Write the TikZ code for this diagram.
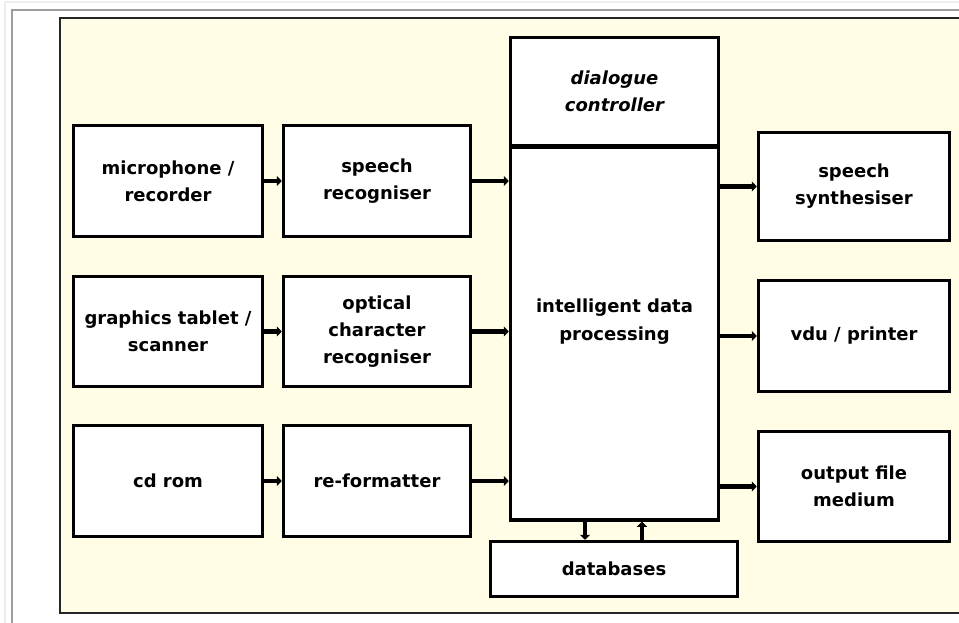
\documentclass[tikz,border=0pt]{standalone}
\usepackage{fontspec}
\setmainfont{DejaVu Sans}
\usetikzlibrary{arrows.meta}
\definecolor{beige}{RGB}{255,253,229}
\begin{document}
\begin{tikzpicture}[x=1pt,y=-1pt,
  box/.style={draw=black, line width=3.5pt, fill=white, align=center, inner sep=0pt,
    font=\bfseries\fontsize{18}{27}\selectfont},
  arr/.style={line width=4.5pt, -{Triangle[length=5pt,width=10pt]}}]
\useasboundingbox (0,0) rectangle (959,623);
\clip (0,0) rectangle (959,623);
\fill[white] (0,0) rectangle (959,623);
\draw[color=black!7, line width=2pt] (4.5,630) -- (4.5,2.5) -- (970,2.5);
\draw[color=black!38, line width=2pt] (11.5,630) -- (11.5,10.5) -- (970,10.5);
\filldraw[fill=beige, draw=black!85, line width=2.5pt] (60,18) rectangle (975,613);

% left column
\node[box, minimum width=189pt, minimum height=111pt] (mic) at (168,181) {microphone /\\recorder};
\node[box, minimum width=189pt, minimum height=110pt] (gt) at (168,331.5) {graphics tablet /\\scanner};
\node[box, minimum width=189pt, minimum height=111pt] (cd) at (168,481) {cd rom};
% second column
\node[box, minimum width=187pt, minimum height=111pt] (sr) at (377,181) {speech\\recogniser};
\node[box, minimum width=187pt, minimum height=110pt] (ocr) at (377,331.5) {optical\\character\\recogniser};
\node[box, minimum width=187pt, minimum height=111pt] (rf) at (377,481) {re-formatter};
% central
\node[box, minimum width=208pt, minimum height=108pt, font=\bfseries\itshape\fontsize{18}{27}\selectfont] (dlg) at (614.5,91.5) {dialogue\\controller};
\node[box, minimum width=208pt, minimum height=373pt,
  label={[yshift=12pt, align=center, font=\bfseries\fontsize{18}{28}\selectfont]center:intelligent data\\processing}] (proc) at (614.5,333.5) {};
\node[box, minimum width=247pt, minimum height=55pt] (db) at (614,569) {databases};
% right column
\node[box, minimum width=191pt, minimum height=108pt] (ss) at (854,186.5) {speech\\synthesiser};
\node[box, minimum width=191pt, minimum height=111pt] (vdu) at (854,336) {vdu / printer};
\node[box, minimum width=191pt, minimum height=110pt] (out) at (854,486.5) {output file\\medium};

% connectors
\draw[arr] (mic.east) -- (sr.west);
\draw[arr] (gt.east) -- (ocr.west);
\draw[arr] (cd.east) -- (rf.west);
\draw[arr] (sr.east) -- (sr.east -| proc.west);
\draw[arr] (ocr.east) -- (ocr.east -| proc.west);
\draw[arr] (rf.east) -- (rf.east -| proc.west);
\draw[arr] (proc.east |- ss.west) -- (ss.west);
\draw[arr] (proc.east |- vdu.west) -- (vdu.west);
\draw[arr] (proc.east |- out.west) -- (out.west);
\coordinate (dA) at (585,0);
\coordinate (dB) at (642,0);
\draw[arr] (dA |- proc.south) -- (dA |- db.north);
\draw[arr] (dB |- db.north) -- (dB |- proc.south);
\end{tikzpicture}
\end{document}
